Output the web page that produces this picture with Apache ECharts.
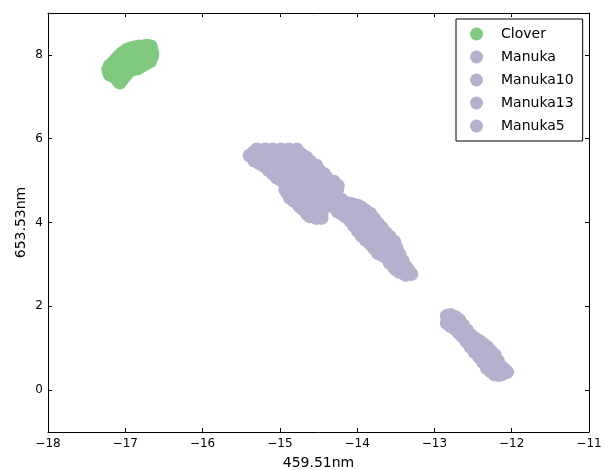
<!DOCTYPE html>
<html><head><meta charset="utf-8">
<script src="https://cdn.jsdelivr.net/npm/echarts@6/dist/echarts.min.js"></script>
<style>html,body{margin:0;padding:0;background:#fff}#c{width:605px;height:470px}</style>
</head><body><div id="c"></div>
<script>
const seriesNames = ['Clover', 'Manuka', 'Manuka10', 'Manuka13', 'Manuka5'];
const seriesColors = ['#7fc97f', '#b4b1ce', '#b4b1ce', '#b4b1ce', '#b4b1ce'];
const xTicks = [-18, -17, -16, -15, -14, -13, -12, -11];
const yTicks = [0, 2, 4, 6, 8];
const xLabel = '459.51nm';
const yLabel = '653.53nm';

const clover = [
  [-16.67,8.20],[-16.65,8.01],[-16.68,7.85],[-16.76,7.77],[-16.84,7.68],[-16.94,7.65],
  [-17.00,7.51],[-17.07,7.34],[-17.12,7.46],[-17.20,7.53],[-17.22,7.65],[-17.20,7.74],
  [-17.12,7.89],[-17.04,8.04],[-16.97,8.13],[-16.87,8.18],[-16.77,8.20],[-16.94,7.94],
  [-16.84,7.99],[-16.75,7.99],[-17.03,7.79],[-16.94,7.79],[-16.85,7.85],[-17.11,7.65],
  [-17.02,7.65],[-16.76,7.89],[-16.72,8.22],[-16.66,8.10],[-16.66,7.93],[-16.72,7.81],
  [-16.80,7.72],[-16.89,7.66],[-16.97,7.58],[-17.04,7.42],[-17.10,7.40],[-17.16,7.50],
  [-17.21,7.59],[-17.16,7.81],[-17.08,7.97],[-17.00,8.09],[-16.92,8.16],[-16.82,8.20]
];
const manuka = [
  [-15.39,5.60],
  [-15.30,5.74],[-15.19,5.74],[-15.09,5.74],[-14.99,5.74],[-14.88,5.74],[-14.78,5.74],
  [-15.28,5.55],[-15.18,5.55],[-15.08,5.55],[-14.97,5.55],[-14.87,5.55],[-14.77,5.55],[-14.66,5.55],
  [-15.21,5.36],[-15.10,5.36],[-15.00,5.36],[-14.90,5.36],[-14.79,5.36],[-14.69,5.36],[-14.58,5.36],[-14.53,5.36],
  [-15.09,5.16],[-15.00,5.16],[-14.90,5.16],[-14.79,5.16],[-14.69,5.16],[-14.58,5.16],[-14.48,5.16],[-14.43,5.16],
  [-14.95,4.97],[-14.84,4.97],[-14.74,4.97],[-14.64,4.97],[-14.53,4.97],[-14.43,4.97],[-14.35,4.97],
  [-14.25,4.88],
  [-15.34,5.67],[-15.25,5.72],[-15.14,5.72],[-15.04,5.70],[-14.94,5.72],[-14.83,5.70],[-14.72,5.62],
  [-14.61,5.46],[-14.50,5.26],[-14.39,5.06],[-14.30,4.97],[-15.33,5.48],[-15.26,5.41],[-15.15,5.26],
  [-15.04,5.07],[-14.99,5.02]
];
const manuka10 = [
  [-14.25,4.59],[-14.25,4.40],[-14.25,4.26],
  [-14.15,4.47],[-14.15,4.28],[-14.15,4.14],
  [-14.04,4.42],[-14.04,4.23],[-14.04,4.04],[-14.04,3.92],
  [-13.94,4.35],[-13.94,4.16],[-13.94,3.97],[-13.94,3.78],[-13.94,3.68],
  [-13.83,4.21],[-13.83,4.02],[-13.83,3.83],[-13.83,3.63],[-13.83,3.49],
  [-13.73,3.97],[-13.73,3.78],[-13.73,3.59],[-13.73,3.39],[-13.73,3.27],
  [-13.63,3.75],[-13.63,3.56],[-13.63,3.37],[-13.63,3.18],
  [-13.52,3.54],[-13.52,3.35],[-13.52,3.16],[-13.52,2.96],[-13.52,2.92],
  [-13.45,3.23],[-13.45,3.04],[-13.45,2.82],
  [-13.37,2.94],[-13.37,2.75],
  [-13.30,2.77],
  [-14.20,4.54],[-14.09,4.45],[-13.99,4.40],[-13.89,4.28],[-13.78,4.09],[-13.68,3.87],
  [-13.58,3.66],[-13.49,3.39],[-13.41,3.08],[-13.34,2.87],
  [-14.20,4.21],[-14.09,4.04],[-13.99,3.80],[-13.89,3.59],[-13.78,3.39],[-13.68,3.23],
  [-13.58,3.04],[-13.49,2.87],[-13.41,2.80]
];
const manuka13 = [
  [-12.84,1.77],[-12.84,1.60],
  [-12.73,1.74],[-12.73,1.55],[-12.73,1.46],
  [-12.63,1.55],[-12.63,1.36],[-12.63,1.27],
  [-12.53,1.31],[-12.53,1.12],[-12.53,1.03],
  [-12.42,1.17],[-12.42,0.98],[-12.42,0.79],
  [-12.32,1.03],[-12.32,0.83],[-12.32,0.64],[-12.32,0.52],
  [-12.22,0.83],[-12.22,0.64],[-12.22,0.45],[-12.22,0.38],
  [-12.13,0.55],[-12.13,0.38],
  [-12.06,0.43],
  [-12.79,1.79],[-12.68,1.67],[-12.58,1.43],[-12.48,1.24],[-12.37,1.10],[-12.27,0.93],
  [-12.18,0.69],[-12.09,0.48],
  [-12.79,1.53],[-12.68,1.36],[-12.58,1.15],[-12.48,0.91],[-12.37,0.67],[-12.27,0.45],[-12.17,0.36]
];
const manuka5 = [
  [-14.93,4.78],[-14.83,4.78],[-14.73,4.78],[-14.62,4.78],[-14.52,4.78],[-14.42,4.78],[-14.31,4.78],[-14.26,4.78],
  [-14.87,4.59],[-14.77,4.59],[-14.66,4.59],[-14.56,4.59],[-14.46,4.59],[-14.35,4.59],
  [-14.75,4.40],[-14.66,4.40],[-14.56,4.40],[-14.46,4.40],[-14.35,4.40],
  [-14.65,4.21],[-14.56,4.21],[-14.46,4.21],
  [-14.53,4.11],[-14.46,4.11],
  [-14.90,4.70],[-14.82,4.52],[-14.71,4.33],[-14.61,4.15]
];
const seriesData = [clover, manuka, manuka10, manuka13, manuka5];

const FONT = 'DejaVu Sans';
const fmt = v => (v < 0 ? '\u2212' : '') + Math.abs(v);
const lineStyle = { color: '#000', width: 1 };
const tick = { show: true, inside: true, length: 4, lineStyle: { color: '#000', width: 1 } };

function xAxisDef(pos, showLabel) {
  return {
    type: 'value', position: pos, min: -18, max: -11, interval: 1,
    axisLine: { show: true, onZero: false, lineStyle },
    axisTick: tick,
    splitLine: { show: false },
    axisLabel: { show: showLabel, formatter: fmt, fontFamily: FONT, fontSize: 12, color: '#000', margin: 6 },
    name: showLabel ? xLabel : '', nameLocation: 'middle', nameGap: 24,
    nameTextStyle: { fontFamily: FONT, fontSize: 14, color: '#000' }
  };
}
function yAxisDef(pos, showLabel) {
  return {
    type: 'value', position: pos, min: -1, max: 9,
    axisLine: { show: true, onZero: false, lineStyle },
    axisTick: Object.assign({}, tick, { customValues: yTicks }),
    splitLine: { show: false },
    axisLabel: { show: showLabel, customValues: yTicks, formatter: fmt, fontFamily: FONT, fontSize: 12, color: '#000', margin: 5 },
    name: showLabel ? yLabel : '', nameLocation: 'middle', nameGap: 20, nameMoveOverlap: false,
    nameTextStyle: { fontFamily: FONT, fontSize: 14, color: '#000' }
  };
}

const chart = echarts.init(document.getElementById('c'), null, { renderer: 'canvas' });
chart.setOption({
  backgroundColor: '#fff',
  animation: false,
  grid: { left: 48, right: 16, top: 13, bottom: 38, containLabel: false, outerBoundsMode: 'none' },
  xAxis: [xAxisDef('bottom', true), xAxisDef('top', false)],
  yAxis: [yAxisDef('left', true), yAxisDef('right', false)],
  legend: {
    data: seriesNames, orient: 'vertical', left: 456, top: 19,
    icon: 'circle', itemWidth: 13, itemHeight: 13, itemGap: 9,
    padding: [8, 9, 8, 14],
    borderColor: '#000', borderWidth: 1, backgroundColor: '#fff',
    textStyle: { fontFamily: FONT, fontSize: 14, color: '#000', padding: [0, 0, 0, 13] }
  },
  series: seriesNames.map((n, i) => ({
    name: n, type: 'scatter', data: seriesData[i], symbol: 'circle', symbolSize: 14,
    xAxisIndex: 0, yAxisIndex: 0,
    itemStyle: { color: seriesColors[i], opacity: 1 },
    emphasis: { disabled: true }
  }))
});
</script>
</body></html>
